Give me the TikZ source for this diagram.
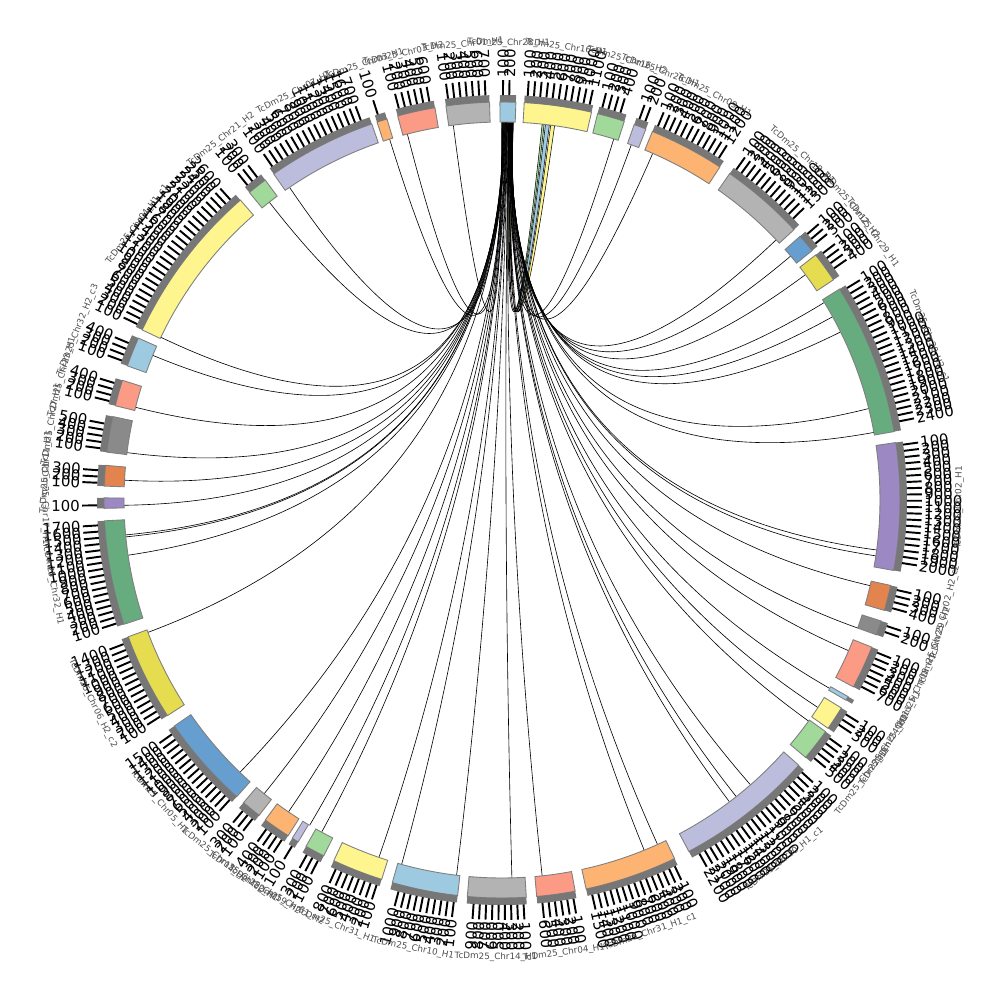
\documentclass[tikz,border=0pt]{standalone}
\usepackage{fontspec}
\setmainfont{DejaVu Sans}
\usetikzlibrary{calc}

\definecolor{clb}{HTML}{9ECAE1}
\definecolor{cyl}{HTML}{FFF58F}
\definecolor{cgl}{HTML}{A1D99B}
\definecolor{clv}{HTML}{BCBDDC}
\definecolor{col}{HTML}{FDB371}
\definecolor{cgy}{HTML}{B3B3B3}
\definecolor{csb}{HTML}{669ECF}
\definecolor{cdy}{HTML}{E6DC50}
\definecolor{cmg}{HTML}{66AC7E}
\definecolor{cpu}{HTML}{9C88C3}
\definecolor{cdo}{HTML}{E3834E}
\definecolor{cdg}{HTML}{8A8A8A}
\definecolor{csa}{HTML}{FB9A85}
\definecolor{blockedge}{HTML}{7F7F7F}
\definecolor{bandgray}{HTML}{777777}
\definecolor{namegray}{HTML}{4D4D4D}

% one chromosome block: start angle, end angle, colour, name, id
\newcommand{\chrblock}[5]{%
  \filldraw[block, fill=#3] (#1:378) arc[start angle=#1, end angle=#2, radius=378]
    -- (#2:398) arc[start angle=#2, end angle=#1, radius=398] -- cycle;
  \fill[tickband] (#1:398) arc[start angle=#1, end angle=#2, radius=398]
    -- (#2:405) arc[start angle=#2, end angle=#1, radius=405] -- cycle;
  \pgfmathtruncatemacro{\nt}{(#1-(#2))/0.885}
  \ifnum\nt>0
    \foreach \k in {1,...,\nt}{
      \pgfmathsetmacro{\ta}{#1-(\k-0.5)*0.885}
      \draw[tickline] (\ta:405) -- (\ta:420);
      \pgfmathtruncatemacro{\rh}{cos(\ta)>=0}
      \ifnum\rh=1
        \node[ticklabel, anchor=west, rotate=\ta] (t#5-\k) at (\ta:422) {\k00};
      \else
        \pgfmathsetmacro{\rt}{\ta+180}
        \node[ticklabel, anchor=east, rotate=\rt] (t#5-\k) at (\ta:422) {\k00};
      \fi
    }
  \fi
  \pgfmathsetmacro{\ma}{(#1+#2)/2}
  \pgfmathtruncatemacro{\up}{sin(\ma)>=0}
  \ifnum\up=1 \pgfmathsetmacro{\nr}{\ma-90}\else\pgfmathsetmacro{\nr}{\ma+90}\fi
  \node[chrname, rotate=\nr] (n#5) at (\ma:457) {#4};
}

\begin{document}
\begin{tikzpicture}[x=0.02cm, y=0.02cm,
  block/.style={draw=blockedge, line width=0.5pt},
  tickband/.style={fill=bandgray},
  tickline/.style={line width=1.1pt, black},
  ticklabel/.style={inner sep=0pt, font=\fontsize{8.5}{10}\selectfont},
  chrname/.style={inner sep=0pt, text=namegray, font=\fontsize{5}{6}\selectfont},
  chord/.style={black, line width=0.35pt},
  ribbon/.style={draw=black, line width=0.3pt}]
  \useasboundingbox (-502,-500) rectangle (498,500);
  \coordinate (o) at (0,0);

  % links between the first blocks
  \foreach \sa/\sb/\ta/\tb/\col [count=\c] in {88.30/88.55/82.0/82.6/cyl, 88.60/88.85/82.8/83.4/clb, 88.90/89.00/83.6/83.9/cgl}{
    \coordinate (ra\c) at (\sa:378);
    \coordinate (rb\c) at (\sb:378);
    \coordinate (rc\c) at (\ta:378);
    \coordinate (rd\c) at (\tb:378);
    \filldraw[ribbon, fill=\col] (ra\c) .. controls ($(ra\c)!0.667!(o)$) and ($(rd\c)!0.667!(o)$) .. (rd\c)
      arc[start angle=\tb, end angle=\ta, radius=378]
      .. controls ($(rc\c)!0.667!(o)$) and ($(rb\c)!0.667!(o)$) .. (rb\c)
      arc[start angle=\sb, end angle=\sa, radius=378] -- cycle;
  }

  % chords to the right half
  \foreach \t [count=\c] in {72.8, 70.0, 66.5, 43.5, 40.2, 36.6, 31.5, 29.0, 26.4, 14.0, 10.3, -7.6, -8.5,
      -13.1, -19.8, -23.5, -29.9, -33.3, -35.8, -48.9, -51.7, -53.0, -65.7, -67.9, -83.9, -88.5}{
    \pgfmathsetmacro{\s}{88.27+0.03*\c}
    \coordinate (ls\c) at (\s:378);
    \coordinate (lt\c) at (\t:378);
    \draw[chord] (ls\c) .. controls ($(ls\c)!0.667!(o)$) and ($(lt\c)!0.667!(o)$) .. (lt\c);
  }
  % chords to the left half
  \foreach \t [count=\c] in {-96.9, -105.4, -109.0, -118.5, -120.6, -124.4, -129.0, -133.9, -159.5,
      -171.6, -174.4, -174.7, 180.8, 177.0, 172.8, 165.8, 157.5, 154.5, 128.0, 124.2, 107.3, 104.5, 97.4}{
    \pgfmathsetmacro{\s}{89.11+0.04*\c}
    \coordinate (ms\c) at (\s:378);
    \coordinate (mt\c) at (\t:378);
    \draw[chord] (ms\c) .. controls ($(ms\c)!0.667!(o)$) and ($(mt\c)!0.667!(o)$) .. (mt\c);
  }

  % blocks, ticks and names
  \chrblock{90.3}{88.0}{clb}{TcDm25\_Chr28\_H1}{a}
  \chrblock{86.8}{77.0}{cyl}{TcDm25\_Chr16\_H1}{b}
  \chrblock{76.1}{72.1}{cgl}{TcDm25\_Chr16\_H2}{c}
  \chrblock{70.6}{68.8}{clv}{TcDm25\_Chr26\_H1}{d}
  \chrblock{67.8}{56.8}{col}{TcDm25\_Chr09\_H1}{e}
  \chrblock{55.1}{42.8}{cgy}{TcDm25\_Chr18\_H1}{f}
  \chrblock{41.5}{38.8}{csb}{TcDm25\_Chr12\_H2}{g}
  \chrblock{38.0}{33.6}{cdy}{TcDm25\_Chr29\_H1}{h}
  \chrblock{32.0}{9.9}{cmg}{TcDm25\_Chr20\_H2\_c1}{i}
  \chrblock{8.3}{-10.2}{cpu}{TcDm25\_Chr02\_H1}{j}
  \chrblock{-12.4}{-16.1}{cdo}{TcDm25\_Chr02\_H2\_c2}{k}
  \chrblock{-17.7}{-19.8}{cdg}{TcDm25\_Chr29\_H2}{l}
  \chrblock{-21.7}{-28.0}{csa}{TcDm25\_Chr08\_H1}{m}
  \chrblock{-29.6}{-30.2}{clb}{TcDm25\_Chr13\_H1}{n}
  \chrblock{-31.5}{-35.0}{cyl}{TcDm25\_Chr24\_H1}{p}
  \chrblock{-35.6}{-40.3}{cgl}{TcDm25\_Chr25\_H1}{q}
  \chrblock{-41.8}{-62.0}{clv}{TcDm25\_Chr30\_H1\_c1}{r}
  \chrblock{-64.3}{-77.8}{col}{TcDm25\_Chr31\_H1\_c1}{s}
  \chrblock{-79.4}{-85.0}{csa}{TcDm25\_Chr04\_H1}{t}
  \chrblock{-86.5}{-95.0}{cgy}{TcDm25\_Chr14\_H1}{u}
  \chrblock{-96.4}{-106.0}{clb}{TcDm25\_Chr10\_H1}{v}
  \chrblock{-107.6}{-115.0}{cyl}{TcDm25\_Chr31\_H1}{w}
  \chrblock{-116.6}{-119.5}{cgl}{TcDm25\_Chr31\_H2}{x}
  \chrblock{-120.8}{-121.8}{clv}{TcDm25\_Chr19\_H2}{y}
  \chrblock{-122.5}{-126.5}{col}{TcDm25\_Chr22\_H1}{z}
  \chrblock{-127.6}{-130.5}{cgy}{TcDm25\_Chr15\_H2}{aa}
  \chrblock{-131.8}{-145.4}{csb}{TcDm25\_Chr05\_H1}{ab}
  \chrblock{-147.2}{-159.9}{cdy}{TcDm25\_Chr06\_H2\_c2}{ac}
  \chrblock{-161.8}{-177.0}{cmg}{TcDm25\_Chr32\_H1}{ad}
  \chrblock{181.2}{179.7}{cpu}{TcDm25\_Chr17\_H1}{ae}
  \chrblock{178.0}{175.0}{cdo}{TcDm25\_Chr11\_H1}{af}
  \chrblock{173.1}{167.9}{cdg}{TcDm25\_Chr27\_H1}{ag}
  \chrblock{166.3}{162.5}{csa}{TcDm25\_Chr23\_H1}{ah}
  \chrblock{160.3}{156.0}{clb}{TcDm25\_Chr32\_H2\_c3}{ai}
  \chrblock{154.7}{131.1}{cyl}{TcDm25\_Chr04\_H1\_c1}{aj}
  \chrblock{129.4}{126.5}{cgl}{TcDm25\_Chr21\_H2}{ak}
  \chrblock{125.0}{109.1}{clv}{TcDm25\_Chr07\_H1}{al}
  \chrblock{108.3}{106.8}{col}{TcDm25\_Chr03\_H1}{am}
  \chrblock{105.2}{99.7}{csa}{TcDm25\_Chr03\_H2}{an}
  \chrblock{98.1}{91.8}{cgy}{TcDm25\_Chr01\_H1}{ao}
\end{tikzpicture}
\end{document}
